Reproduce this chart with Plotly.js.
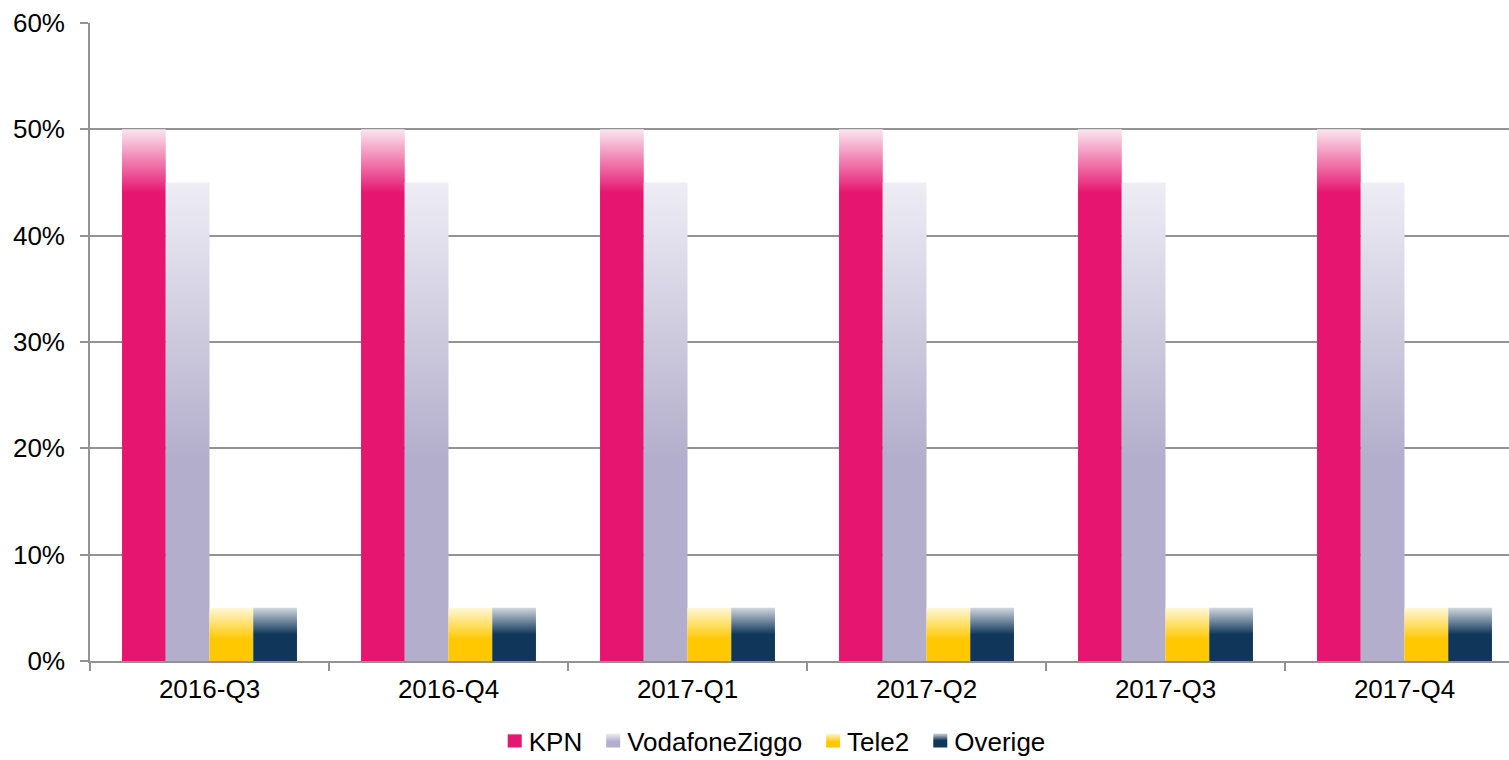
<!DOCTYPE html>
<html>
<head>
<meta charset="utf-8">
<script src="https://cdn.plot.ly/plotly-3.0.1.min.js"></script>
<style>
html,body{margin:0;padding:0;background:#fff;overflow:hidden;}
#chart{width:1524px;height:760px;}
</style>
</head>
<body>
<div id="chart"></div>
<script>
var categories = ["2016-Q3", "2016-Q4", "2017-Q1", "2017-Q2", "2017-Q3", "2017-Q4"];
var seriesNames = ["KPN", "VodafoneZiggo", "Tele2", "Overige"];
var kpn = [0.50, 0.50, 0.50, 0.50, 0.50, 0.50];
var vodafoneZiggo = [0.45, 0.45, 0.45, 0.45, 0.45, 0.45];
var tele2 = [0.05, 0.05, 0.05, 0.05, 0.05, 0.05];
var overige = [0.05, 0.05, 0.05, 0.05, 0.05, 0.05];
var seriesValues = [kpn, vodafoneZiggo, tele2, overige];

var solidColors = ["#e6156f", "#b3aecb", "#ffc800", "#10375a"];
var gradients = [
  [[0, "#fbe6ef"], [0.12, "#e6156f"], [1, "#e6156f"]],
  [[0, "#eeedf5"], [0.58, "#b3aecb"], [1, "#b3aecb"]],
  [[0, "#fff8d8"], [0.6, "#ffc800"], [1, "#ffc800"]],
  [[0, "#d0d8e0"], [0.5, "#10375a"], [1, "#10375a"]]
];

var FONT = "Liberation Sans, Arial, sans-serif";
var AXIS_COLOR = "#939393";

var traces = seriesNames.map(function (name, i) {
  return {
    type: "bar",
    name: name,
    x: categories,
    y: seriesValues[i],
    marker: { color: solidColors[i], line: { width: 0 } },
    hoverinfo: "skip"
  };
});

var layout = {
  width: 1524,
  height: 760,
  margin: { l: 90, r: 0, t: 23, b: 99, autoexpand: false },
  paper_bgcolor: "#ffffff",
  plot_bgcolor: "#ffffff",
  barmode: "group",
  bargap: 0.268,
  bargroupgap: 0,
  font: { family: FONT, size: 26, color: "#000000" },
  showlegend: true,
  legend: {
    orientation: "h",
    x: 0.474,
    xanchor: "center",
    y: -0.088,
    yanchor: "top",
    font: { family: FONT, size: 26, color: "#000000" },
    itemclick: false,
    itemdoubleclick: false,
    traceorder: "normal",
    tracegroupgap: 0
  },
  xaxis: {
    type: "category",
    showgrid: false,
    showline: true,
    linecolor: AXIS_COLOR,
    linewidth: 1.8,
    ticks: "outside",
    tickson: "boundaries",
    ticklen: 8,
    tickcolor: AXIS_COLOR,
    tickwidth: 1.8,
    ticklabelstandoff: 4,
    tickfont: { family: FONT, size: 26, color: "#000000" },
    zeroline: false,
    fixedrange: true
  },
  yaxis: {
    range: [0, 0.6],
    dtick: 0.1,
    tick0: 0,
    tickformat: ".0%",
    showgrid: true,
    gridcolor: AXIS_COLOR,
    gridwidth: 1.8,
    showline: true,
    linecolor: AXIS_COLOR,
    linewidth: 1.8,
    ticks: "outside",
    ticklen: 8,
    tickcolor: AXIS_COLOR,
    tickwidth: 1.8,
    ticklabelstandoff: 10,
    tickfont: { family: FONT, size: 26, color: "#000000" },
    zeroline: false,
    fixedrange: true
  }
};

var gd = document.getElementById("chart");

function applyGradients() {
  var svg = gd.querySelector("svg.main-svg");
  if (!svg) return;
  var ns = "http://www.w3.org/2000/svg";
  var defs = svg.querySelector("defs#custom-grads");
  if (!defs) {
    defs = document.createElementNS(ns, "defs");
    defs.setAttribute("id", "custom-grads");
    svg.insertBefore(defs, svg.firstChild);
    gradients.forEach(function (stops, i) {
      var lg = document.createElementNS(ns, "linearGradient");
      lg.setAttribute("id", "barGrad" + i);
      lg.setAttribute("x1", "0");
      lg.setAttribute("y1", "0");
      lg.setAttribute("x2", "0");
      lg.setAttribute("y2", "1");
      stops.forEach(function (s) {
        var st = document.createElementNS(ns, "stop");
        st.setAttribute("offset", s[0]);
        st.setAttribute("stop-color", s[1]);
        lg.appendChild(st);
      });
      defs.appendChild(lg);
    });
  }
  var barGroups = gd.querySelectorAll(".barlayer .trace.bars");
  barGroups.forEach(function (g, i) {
    g.querySelectorAll(".point path").forEach(function (p) {
      p.style.fill = "url(#barGrad" + i + ")";
    });
  });
  var legendItems = gd.querySelectorAll(".legend .traces");
  legendItems.forEach(function (item, i) {
    item.querySelectorAll(".legendpoints path").forEach(function (p) {
      p.setAttribute("d", "M13,7H-1V-7H13Z");
      p.style.fill = "url(#barGrad" + i + ")";
    });
  });
}

Plotly.newPlot(gd, traces, layout, { displayModeBar: false, staticPlot: true }).then(function () {
  applyGradients();
  gd.on("plotly_afterplot", applyGradients);
});
</script>
</body>
</html>
